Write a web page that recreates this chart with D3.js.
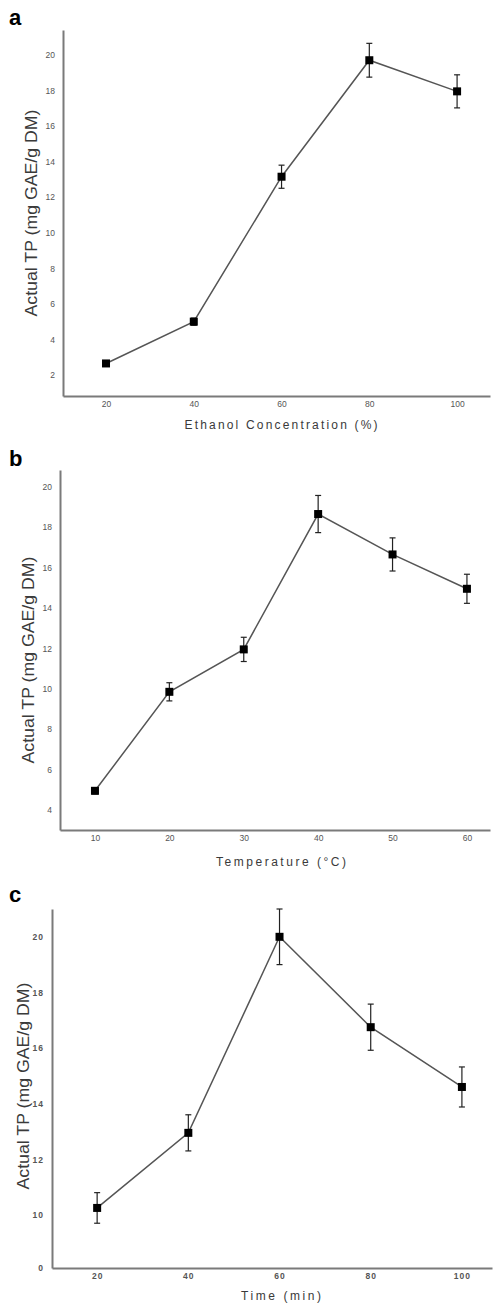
<!DOCTYPE html>
<html>
<head>
<meta charset="utf-8">
<script src="https://cdn.jsdelivr.net/npm/d3@7"></script>
<style>
  body { margin: 0; background: #fff; }
  svg { display: block; font-family: "Liberation Sans", Arial, sans-serif; }
</style>
</head>
<body>
<script>
var w = 496;
var h = 1308;

// panel a - ethanol concentration
var ethanolX = [20, 40, 60, 80, 100];
var ethanolTP = [2.65, 5.0, 13.15, 19.7, 17.95];
var ethanolErr = [0.15, 0.2, 0.65, 0.95, 0.93];
var ethanolYTicks = [2, 4, 6, 8, 10, 12, 14, 16, 18, 20];

// panel b - temperature
var tempX = [10, 20, 30, 40, 50, 60];
var tempTP = [4.95, 9.85, 11.95, 18.65, 16.65, 14.95];
var tempErr = [0.15, 0.45, 0.6, 0.92, 0.82, 0.72];
var tempYTicks = [4, 6, 8, 10, 12, 14, 16, 18, 20];

// panel c - time
var timeX = [20, 40, 60, 80, 100];
var timeTP = [10.25, 12.95, 20.0, 16.75, 14.6];
var timeErr = [0.55, 0.65, 1.0, 0.83, 0.72];
var timeYTicks = [10, 12, 14, 16, 18, 20];

var yTitle = "Actual TP (mg GAE/g DM)";

var panels = [
  {letter: "a", xs: ethanolX, ys: ethanolTP, err: ethanolErr, yTicks: ethanolYTicks,
   xTitle: "Ethanol Concentration (%)", xTitleLen: 193,
   left: 63, right: 490, top: 30, bottom: 396,
   xDomain: [10.2, 107.5], yDomain: [0.82, 21.4], letterY: 25,
   yTitleX: 37, yTitleY: 213, xTitleY: 429},
  {letter: "b", xs: tempX, ys: tempTP, err: tempErr, yTicks: tempYTicks,
   xTitle: "Temperature (°C)", xTitleLen: 130,
   left: 60, right: 490, top: 470, bottom: 830,
   xDomain: [5.3, 63.1], yDomain: [3.01, 20.83], letterY: 466,
   yTitleX: 34, yTitleY: 660, xTitleY: 866},
  {letter: "c", xs: timeX, ys: timeTP, err: timeErr, yTicks: timeYTicks,
   xTitle: "Time (min)", xTitleLen: 80, zeroTick: true, bold: true,
   left: 52, right: 492, top: 909, bottom: 1268,
   xDomain: [10.1, 106.6], yDomain: [8.09, 21.0], letterY: 902,
   yTitleX: 29, yTitleY: 1086, xTitleY: 1300}
];

var svg = d3.select("body").append("svg")
            .attr("width", w)
            .attr("height", h);

panels.forEach(function(p) {
  var x = d3.scaleLinear().domain(p.xDomain).range([p.left, p.right]);
  var y = d3.scaleLinear().domain(p.yDomain).range([p.bottom, p.top]);
  var g = svg.append("g");

  // panel letter
  g.append("text")
    .attr("x", 9).attr("y", p.letterY)
    .style("font-family", "Arial, 'Liberation Sans', sans-serif")
    .style("font-size", "22px").style("font-weight", "bold")
    .text(p.letter);

  var yt = p.yTicks.slice();
  if (p.zeroTick) yt.unshift(p.yDomain[0]);

  var yAxis = d3.axisLeft(y).tickValues(yt).tickSize(0).tickPadding(8)
                .tickFormat(function(d) { return d === p.yDomain[0] ? "0" : d; });
  var xAxis = d3.axisBottom(x).tickValues(p.xs).tickSize(0).tickPadding(5);

  var ya = g.append("g").attr("transform", "translate(" + p.left + ",0)").call(yAxis);
  var xa = g.append("g").attr("transform", "translate(0," + p.bottom + ")").call(xAxis);

  [ya, xa].forEach(function(a) {
    a.select(".domain").attr("stroke", "#7a7a7a").attr("stroke-width", 2);
    a.selectAll("text")
      .attr("fill", "#555")
      .style("font-size", "8.5px")
      .style("font-weight", p.bold ? "bold" : "normal")
      .style("letter-spacing", p.bold ? "1px" : "0px");
  });

  // axis titles
  g.append("text")
    .attr("transform", "translate(" + p.yTitleX + "," + p.yTitleY + ") rotate(-90)")
    .attr("text-anchor", "middle")
    .attr("fill", "#3a3a3a")
    .attr("textLength", 207)
    .attr("lengthAdjust", "spacingAndGlyphs")
    .style("font-size", "16px")
    .text(yTitle);

  g.append("text")
    .attr("x", 281).attr("y", p.xTitleY)
    .attr("text-anchor", "middle")
    .attr("fill", "#3a3a3a")
    .attr("textLength", p.xTitleLen)
    .style("font-size", "12px")
    .text(p.xTitle);

  var pts = p.xs.map(function(d, i) { return {x: d, y: p.ys[i], e: p.err[i]}; });

  // connecting line
  var line = d3.line().x(function(d) { return x(d.x); }).y(function(d) { return y(d.y); });
  g.append("path")
    .datum(pts)
    .attr("d", line)
    .attr("fill", "none")
    .attr("stroke", "#555")
    .attr("stroke-width", 1.5);

  // error bars
  var eb = g.selectAll(".eb").data(pts).enter().append("g");
  eb.append("line")
    .attr("x1", function(d) { return x(d.x); }).attr("x2", function(d) { return x(d.x); })
    .attr("y1", function(d) { return y(d.y - d.e); }).attr("y2", function(d) { return y(d.y + d.e); })
    .attr("stroke", "#222").attr("stroke-width", 1.2);
  [-1, 1].forEach(function(s) {
    eb.append("line")
      .attr("x1", function(d) { return x(d.x) - 3; }).attr("x2", function(d) { return x(d.x) + 3; })
      .attr("y1", function(d) { return y(d.y + s * d.e); }).attr("y2", function(d) { return y(d.y + s * d.e); })
      .attr("stroke", "#222").attr("stroke-width", 1.2);
  });

  // square markers
  g.selectAll(".pt").data(pts).enter().append("rect")
    .attr("x", function(d) { return x(d.x) - 4; })
    .attr("y", function(d) { return y(d.y) - 4; })
    .attr("width", 8).attr("height", 8)
    .attr("fill", "#000");
});
</script>
</body>
</html>
